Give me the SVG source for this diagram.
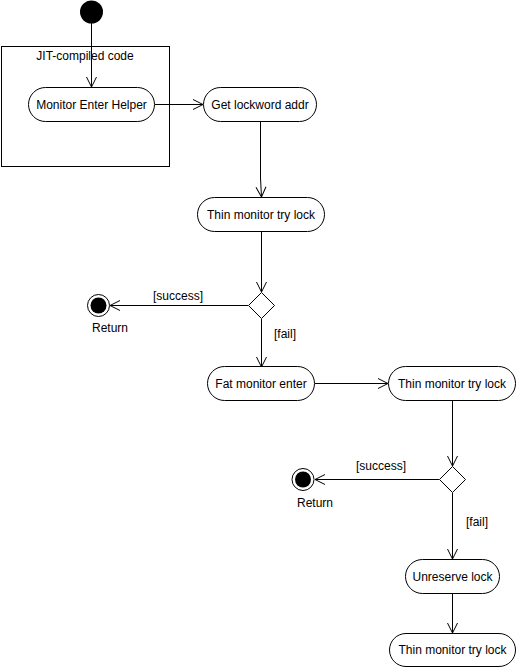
<svg xmlns="http://www.w3.org/2000/svg" width="517" height="668" viewBox="0 0 517 668">
<style>
.n{fill:#fff;stroke:#000;stroke-width:1}
.t{font-family:"Liberation Sans",Arial,sans-serif;font-size:12px;fill:#000}
.c{text-anchor:middle}
.e{fill:none;stroke:#000;stroke-width:1}
</style>
<defs>
<marker id="a" markerUnits="userSpaceOnUse" markerWidth="12" markerHeight="12" refX="11" refY="6" orient="auto" viewBox="0 0 12 12">
<path d="M1,1 L11,6 L1,11" fill="none" stroke="#000" stroke-width="1"/>
</marker>
</defs>
<rect width="517" height="668" fill="#fff"/>
<g id="frame">
<rect x="1.5" y="46.5" width="168" height="120" fill="none" stroke="#000"/>
<text class="t c" x="85" y="60">JIT-compiled code</text>
</g>
<g id="connectors">
<line class="e" x1="91.5" y1="23" x2="91.5" y2="87" marker-end="url(#a)"/>
<line class="e" x1="155" y1="104.5" x2="203" y2="104.5" marker-end="url(#a)"/>
<polyline class="e" points="260.5,122 260.5,178 261.5,197" marker-end="url(#a)"/>
<line class="e" x1="261.5" y1="231" x2="261.5" y2="292" marker-end="url(#a)"/>
<line class="e" x1="248" y1="305.5" x2="110" y2="305.5" marker-end="url(#a)"/>
<line class="e" x1="261.5" y1="319" x2="261.5" y2="367" marker-end="url(#a)"/>
<line class="e" x1="315" y1="383.5" x2="388" y2="383.5" marker-end="url(#a)"/>
<line class="e" x1="452.5" y1="401" x2="452.5" y2="466" marker-end="url(#a)"/>
<line class="e" x1="439" y1="479.5" x2="315" y2="479.5" marker-end="url(#a)"/>
<line class="e" x1="452.5" y1="493" x2="452.5" y2="559" marker-end="url(#a)"/>
<line class="e" x1="452.5" y1="593" x2="452.5" y2="633" marker-end="url(#a)"/>
<text class="t" x="153" y="300">[success]</text>
<text class="t" x="274" y="338">[fail]</text>
<text class="t" x="356" y="470">[success]</text>
<text class="t" x="466" y="526">[fail]</text>
</g>
<g id="start"><circle cx="91.5" cy="12" r="11.5" fill="#000"/></g>
<g id="n_helper">
<rect class="n" x="28.5" y="87.5" width="126" height="34" rx="17"/>
<text class="t c" x="91.5" y="108.5">Monitor Enter Helper</text>
</g>
<g id="n_lockword">
<rect class="n" x="203.5" y="87.5" width="113" height="34" rx="17"/>
<text class="t c" x="260" y="108.5">Get lockword addr</text>
</g>
<g id="n_thin1">
<rect class="n" x="197.5" y="197.5" width="127" height="34" rx="17"/>
<text class="t c" x="261" y="218.5">Thin monitor try lock</text>
</g>
<g id="d1"><polygon class="n" points="261.5,292.5 274.5,305.5 261.5,318.5 248.5,305.5"/></g>
<g id="end1">
<circle cx="98.5" cy="305.5" r="11" fill="#fff" stroke="#000"/>
<circle cx="98.5" cy="305.5" r="8" fill="#000"/>
<text class="t c" x="110" y="332">Return</text>
</g>
<g id="n_fat">
<rect class="n" x="207.5" y="366.5" width="107" height="34" rx="17"/>
<text class="t c" x="261" y="387.5">Fat monitor enter</text>
</g>
<g id="n_thin2">
<rect class="n" x="388.5" y="366.5" width="127" height="34" rx="17"/>
<text class="t c" x="452" y="387.5">Thin monitor try lock</text>
</g>
<g id="d2"><polygon class="n" points="452.5,466.5 465.5,479.5 452.5,492.5 439.5,479.5"/></g>
<g id="end2">
<circle cx="303" cy="479.5" r="11" fill="#fff" stroke="#000"/>
<circle cx="303" cy="479.5" r="8" fill="#000"/>
<text class="t c" x="315" y="507">Return</text>
</g>
<g id="n_unreserve">
<rect class="n" x="405.5" y="559.5" width="94" height="34" rx="17"/>
<text class="t c" x="452.5" y="580.5">Unreserve lock</text>
</g>
<g id="n_thin3">
<rect class="n" x="389.5" y="633.5" width="126" height="33" rx="16.5"/>
<text class="t c" x="452.5" y="654">Thin monitor try lock</text>
</g>
</svg>
